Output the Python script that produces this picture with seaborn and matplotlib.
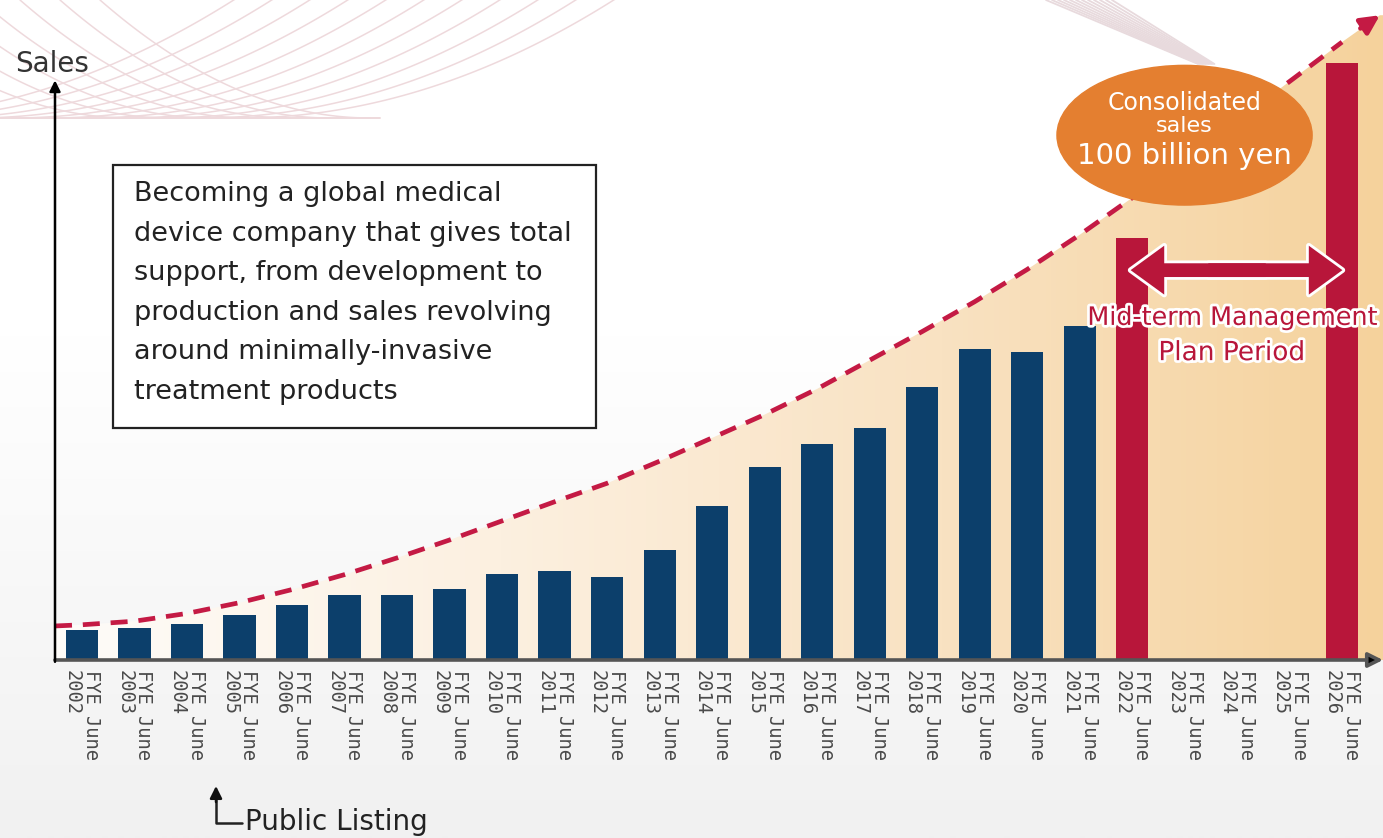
import matplotlib
matplotlib.use("Agg")
import matplotlib.patheffects as pe
import matplotlib.pyplot as plt
import numpy as np
import pandas as pd
import seaborn as sns
from matplotlib.colors import LinearSegmentedColormap
from matplotlib.patches import Ellipse, FancyArrowPatch, Rectangle

# ---- data (billion yen; FYE June 2026 target = 100) ----
YEARS = list(range(2002, 2027))
LABELS = [f"FYE June\n{y}" for y in YEARS]
SALES_ACTUAL = [5.0, 5.4, 6.0, 7.5, 9.2, 10.9, 10.9, 11.9, 14.4, 14.9,
                13.9, 18.4, 25.8, 32.3, 36.2, 38.9, 45.7, 52.1, 51.6, 55.9]
PLAN_YEARS = [2022, 2026]
SALES_PLAN = [70.7, 100.0]
# dashed growth curve, one value per year, plus its ends at the axis / arrow tip
TREND = [5.9, 6.5, 7.8, 9.6, 11.8, 14.3, 17.1, 20.1, 23.3, 26.5,
         29.6, 33.3, 37.2, 41.1, 45.4, 50.2, 55.0, 60.0, 65.4, 71.2,
         77.4, 83.7, 90.3, 96.9, 103.5]
TREND_START = 5.7
TREND_TIP = 108.0

NAVY = "#0c3f6b"
RED = "#b8163a"
DASH_RED = "#c41a44"
ORANGE = "#e47f30"

W, H = 1383, 838
X_LEFT, X_RIGHT = -0.514, 24.78      # axis origin / right arrow tip in category units
Y_TOP = 110.55
TIP_X = 24.72
Y_ARROW = 97.1

sns.set_style("white")
plt.rcParams["font.family"] = ["DejaVu Sans"]

rows = []
for y, lab in zip(YEARS, LABELS):
    if y <= 2021:
        rows.append((lab, SALES_ACTUAL[y - 2002], "actual"))
    elif y in PLAN_YEARS:
        rows.append((lab, SALES_PLAN[PLAN_YEARS.index(y)], "plan"))
    else:
        rows.append((lab, np.nan, "plan"))
df = pd.DataFrame(rows, columns=["label", "sales", "kind"])

fig = plt.figure(figsize=(W / 100, H / 100), dpi=100)

# ---- background layer (pixel coordinates) ----
bg = fig.add_axes([0, 0, 1, 1], zorder=0)
bg.set_xlim(0, W)
bg.set_ylim(H, 0)
bg.axis("off")
grad = np.clip((np.linspace(0, 1, H) - 0.4) / 0.6, 0, 1)[:, None]
bg_cmap = LinearSegmentedColormap.from_list("bg", ["#ffffff", "#f1f1f1"])
bg.imshow(grad, cmap=bg_cmap, extent=(0, W, H, 0), aspect="auto", vmin=0, vmax=1)
line_col = "#eed9dc"
for x0 in np.arange(-140, 260, 38):
    t = np.linspace(0, 1, 80)
    bg.plot(x0 + 380 * t, 118 - 122 * t ** 2, color=line_col, lw=1.1)
for xs in np.arange(-140, 140, 40):
    t = np.linspace(0, 1, 80)
    bg.plot(xs + 270 * t, 118 - 118 * (1 - t) ** 2, color=line_col, lw=1.1)
bg.plot([0, 380], [118, 118], color=line_col, lw=1.4)
for k in range(12):
    bg.plot([1046 + 6 * k, 1198 + 1.5 * k], [0, 64], color="#e8dadd", lw=1.3)

# ---- main chart ----
ax = fig.add_axes([55 / W, (H - 660) / H, (W - 55) / W, 660 / H], zorder=2)
ax.patch.set_alpha(0)

sns.barplot(data=df, x="label", y="sales", hue="kind", order=LABELS,
            palette={"actual": NAVY, "plan": RED}, width=0.61, dodge=False,
            errorbar=None, legend=False, saturation=1, linewidth=0,
            ax=ax, zorder=3)

pos = np.arange(len(YEARS))
curve_x = np.concatenate([[X_LEFT], pos, [TIP_X]])
curve_y = np.concatenate([[TREND_START], TREND, [TREND_TIP]])

# gradient fill under the curve
fill = ax.fill_between(np.append(curve_x, X_RIGHT), np.append(curve_y, TREND_TIP),
                       0, color="none", lw=0)
fill_cmap = LinearSegmentedColormap.from_list(
    "fill", ["#fefcf9", "#fcf0e0", "#f9e2c2", "#f5d29c"])
img = ax.imshow(np.linspace(0, 1, 256)[None, :], cmap=fill_cmap, aspect="auto",
                extent=(X_LEFT, X_RIGHT, 0, Y_TOP), zorder=1)
img.set_clip_path(fill.get_paths()[0], transform=ax.transData)

sns.lineplot(x=curve_x[:-1], y=curve_y[:-1], color=DASH_RED, lw=3.4,
             ls=(0, (3.6, 2.3)), ax=ax, zorder=4)
ax.annotate("", xy=(TIP_X, TREND_TIP), xytext=(pos[-1] + 0.35, TREND[-1] + 2.3),
            arrowprops=dict(arrowstyle="-|>", color=DASH_RED, lw=3.4,
                            mutation_scale=28, shrinkA=0, shrinkB=0),
            annotation_clip=False, zorder=4)

ax.set_xlim(X_LEFT, X_RIGHT)
ax.set_ylim(0, Y_TOP)
for s in ax.spines.values():
    s.set_visible(False)
ax.set_yticks([])
ax.set_xlabel("")
ax.set_ylabel("")
ax.set_xticks(pos)
ax.set_xticklabels(LABELS, rotation=270, ma="left", fontsize=13.5,
                   family="DejaVu Sans Mono", color="#4a4a4a", linespacing=1.0)
ax.tick_params(axis="x", length=0, pad=7)

# axes arrows
ax.annotate("", xy=(X_RIGHT, 0), xytext=(X_LEFT, 0),
            arrowprops=dict(arrowstyle="-|>", color="#555555", lw=2.6,
                            mutation_scale=22, shrinkA=0, shrinkB=0, fc="black"),
            annotation_clip=False, zorder=5)
ax.annotate("", xy=(X_LEFT, Y_ARROW), xytext=(X_LEFT, -0.3),
            arrowprops=dict(arrowstyle="-|>", color="black", lw=1.8,
                            mutation_scale=16, shrinkA=0, shrinkB=0),
            annotation_clip=False, zorder=5)

# 100 billion yen bubble
ax.add_patch(Ellipse((21.0, 87.9), 4.86, 23.4, color=ORANGE, zorder=6))
ax.text(21.0, 93.3, "Consolidated", ha="center", va="center", color="white",
        fontsize=17, zorder=7)
ax.text(21.0, 89.4, "sales", ha="center", va="center", color="white",
        fontsize=16, zorder=7)
ax.text(21.0, 84.4, "100 billion yen", ha="center", va="center", color="white",
        fontsize=21, zorder=7)

# mid-term plan double arrow
arrow_y = 65.3
for lw_, ec in [(4, "white"), (0, RED)]:
    for a, b in [(22.6, 19.92), (21.4, 24.06)]:
        p = FancyArrowPatch((a, arrow_y), (b, arrow_y),
                            arrowstyle="simple,head_length=1.1,head_width=1.6,tail_width=0.45",
                            mutation_scale=22, fc=RED, ec=ec, lw=lw_,
                            zorder=6 if ec == "white" else 7, clip_on=False)
        ax.add_patch(p)
stroke = [pe.withStroke(linewidth=4, foreground="white")]
ax.text(21.9, 57.3, "Mid-term Management", ha="center", va="center", color=RED,
        fontsize=18.3, zorder=8, path_effects=stroke, clip_on=False)
ax.text(21.9, 51.4, "Plan Period", ha="center", va="center", color=RED,
        fontsize=19, zorder=8, path_effects=stroke, clip_on=False)

# ---- overlay annotations (pixel coordinates) ----
ov = fig.add_axes([0, 0, 1, 1], zorder=3)
ov.set_xlim(0, W)
ov.set_ylim(H, 0)
ov.axis("off")
ov.patch.set_alpha(0)

ov.text(15, 64, "Sales", ha="left", va="center", fontsize=20, color="#333333")

ov.add_patch(Rectangle((113, 165), 483, 263, fc="white", ec="#222222", lw=1.6))
ov.text(134, 181,
        "Becoming a global medical\n"
        "device company that gives total\n"
        "support, from development to\n"
        "production and sales revolving\n"
        "around minimally-invasive\n"
        "treatment products",
        ha="left", va="top", fontsize=19.5, linespacing=1.68, color="#222222")

ov.plot([242, 216, 216], [823, 823, 800], color="#222222", lw=1.8)
ov.annotate("", xy=(216, 786), xytext=(216, 802),
            arrowprops=dict(arrowstyle="-|>", color="#111111", lw=1.8,
                            mutation_scale=18, shrinkA=0, shrinkB=0))
ov.text(245, 822, "Public Listing", ha="left", va="center", fontsize=20,
        color="#222222")

fig.savefig("out.png", dpi=100)
